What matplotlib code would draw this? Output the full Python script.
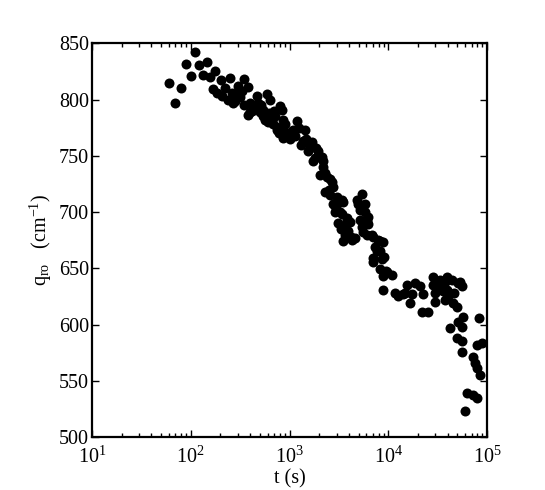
import matplotlib
matplotlib.use('Agg')
import matplotlib.pyplot as plt
from matplotlib.ticker import LogLocator, FixedLocator

plt.rcParams['font.family'] = ['Liberation Serif', 'DejaVu Serif']
plt.rcParams['mathtext.fontset'] = 'custom'
plt.rcParams['mathtext.rm'] = 'Liberation Serif'
plt.rcParams['mathtext.it'] = 'Liberation Serif:italic'

# time (s) and q_ro (cm^-1)
t = [60.3, 69.3, 79.7, 89.5, 101, 110, 121, 133, 146, 157, 168, 176, 184, 202, 207,
     238, 250, 262, 268, 281, 301, 315, 346, 346, 380, 380, 398, 398, 447, 469, 480,
     503, 539, 539, 592, 606, 635, 665, 713, 747, 747, 801, 860, 860, 840, 860, 1012,
     1060, 1085, 1191, 1370, 1435, 1539, 1613, 1690, 1730, 1944, 2134, 2184, 2036,
     2397, 2571, 2694, 2288, 2757, 3027, 3401, 3482, 2757, 3027, 2889, 3246, 3401,
     3822, 3822, 4100, 3482, 3648, 3648, 3482, 4296, 4607, 4826, 5423, 4939, 5814,
     5814, 5175, 6234, 5175, 6092, 5423, 6234, 5550, 6092, 6844, 7006, 7873, 8253,
     8847, 7339, 8253, 7692, 7006, 8644, 7006, 8253, 9712, 10915, 8847, 8847, 11700,
     14100, 15480, 14780, 17400, 16610, 18660, 20970, 22480, 21970, 25260, 28390,
     28390, 29740, 33430, 35020, 37550, 39350, 39350, 37550, 40280, 42200, 44220,
     45260, 49690, 50850, 53290, 55840, 57150, 50850, 55840, 42200, 49690, 55840,
     55840, 82990, 88980, 79180, 72140, 75580, 79180, 84950, 62730, 72140, 79180,
     59880,
     420, 520, 560, 620, 680, 700, 780, 900, 950, 1150, 1250, 1300, 1480, 1800,
     1850, 2200, 2300, 2500, 2600, 2900, 3100, 3300, 3900, 4200, 9000, 9500,
     30000, 32000, 36000, 46000, 12500, 290, 330, 220]
q = [815, 797, 810, 832, 821, 842, 831, 822, 833, 820, 809, 825, 806, 817, 803,
     800, 819, 806, 797, 799, 812, 802, 818, 795, 811, 786, 797, 789, 793, 803, 797,
     789, 791, 785, 805, 780, 800, 781, 785, 776, 773, 794, 782, 773, 791, 766, 765,
     772, 773, 781, 763, 773, 754, 760, 762, 745, 754, 749, 740, 733,
     731, 729, 727, 718, 722, 713, 711, 709, 707, 707, 700, 700, 698,
     695, 692, 691, 687, 687, 680, 674, 675, 677, 711, 716, 707, 707,
     700, 702, 696, 693, 692, 687, 689, 682, 680, 680, 678, 675, 674,
     673, 669, 665, 665, 659, 658, 656, 649, 647, 644, 643, 631, 628,
     627, 635, 628, 627, 619, 637, 634, 627, 611, 611, 642,
     635, 620, 640, 638, 638, 642, 631, 622, 625, 628, 640,
     619, 616, 637, 638, 634, 607, 602, 598, 597, 588, 585,
     576, 606, 584, 582, 571, 566, 561, 555, 539, 537, 535,
     523,
     790, 795, 782, 788, 778, 790, 770, 778, 770, 768, 775, 760, 765, 748,
     757, 745, 735, 720, 715, 705, 690, 685, 683, 678, 660, 648,
     628, 632, 630, 628, 625, 805, 808, 810]

fig = plt.figure(figsize=(5.45, 4.9), dpi=100)
ax = fig.add_axes([0.1688, 0.108, 0.7248, 0.8035])
ax.plot(t, q, 'o', color='black', markersize=7.2, markeredgewidth=0)

ax.set_xscale('log')
ax.set_xlim(10, 1e5)
ax.set_ylim(500, 850)
ax.yaxis.set_major_locator(FixedLocator(range(500, 851, 50)))
ax.xaxis.set_major_locator(LogLocator(base=10, numticks=10))
ax.xaxis.set_minor_locator(LogLocator(base=10, subs=range(2, 10), numticks=10))

ax.tick_params(which='both', direction='in', top=True, right=True, labelsize=14.5, width=1)
ax.tick_params(which='major', length=5)
ax.tick_params(which='minor', length=3)
ax.tick_params(axis='x', pad=7)
ax.tick_params(axis='y', pad=2)
for s in ax.spines.values():
    s.set_linewidth(1.6)

ax.set_xlabel('t (s)', fontsize=14.5, labelpad=1)
ax.set_ylabel(r'q$_{\rm ro}$   (cm$^{-1}$)', fontsize=14.5, labelpad=4)

fig.savefig('out.png', dpi=100)
